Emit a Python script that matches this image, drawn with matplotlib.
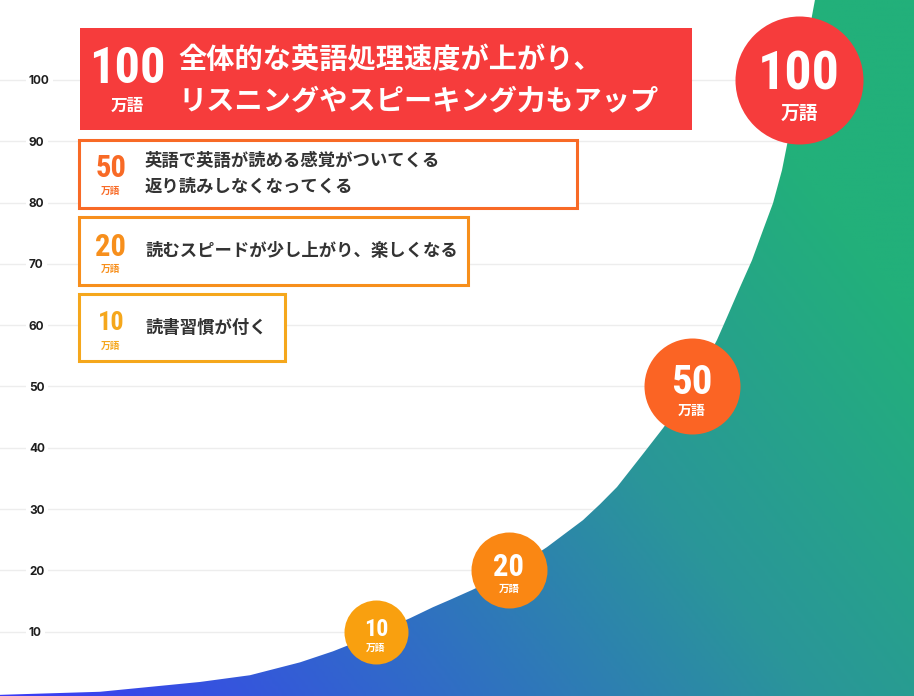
import matplotlib
matplotlib.use('Agg')
import matplotlib.pyplot as plt
import numpy as np
from matplotlib import font_manager
from matplotlib.colors import LinearSegmentedColormap
from matplotlib.patches import Rectangle

# milestones (万語) and where they sit along the curve
milestones = [10, 20, 50, 100]
milestone_x = [376, 509, 692, 799]
unit = '万語'
effects = [
    '読書習慣が付く',
    '読むスピードが少し上がり、楽しくなる',
    '英語で英語が読める感覚がついてくる\n返り読みしなくなってくる',
    '全体的な英語処理速度が上がり、\nリスニングやスピーキング力もアップ',
]
yticks = [10, 20, 30, 40, 50, 60, 70, 80, 90, 100]

# edge of the growth curve
curve_x = [0, 100, 200, 250, 300, 333, 350, 376, 410, 433, 450, 472, 509, 547,
           583, 600, 617, 643, 663, 692, 717, 727, 740, 752, 763, 773, 782, 787,
           801, 815, 914]
curve_y = [-0.3, 0.2, 1.8, 2.9, 5.0, 6.8, 7.9, 9.8, 12.2, 14.0, 15.2, 16.8,
           19.7, 23.8, 28.2, 30.8, 33.6, 39.0, 43.2, 49.8, 57.6, 61.3, 66.2, 70.6,
           75.5, 79.9, 85.3, 89.4, 100.8, 113.1, 113.1]

W, H = 914, 696
Y0_PX, PX_PER_UNIT = 693, 6.13


def yv(py):
    # picture row -> axis value
    return (Y0_PX - py) / PX_PER_UNIT


# a narrow bold face for the big numbers if one is installed
installed = {f.name for f in font_manager.fontManager.ttflist}
num_family = 'Roboto'
for name in ['Roboto Condensed', 'Liberation Sans Narrow', 'DejaVu Sans Condensed',
             'Open Sans Condensed', 'Noto Sans Display']:
    if name in installed:
        num_family = name
        break
jp_font = ['Noto Sans CJK JP', 'DejaVu Sans']

fig = plt.figure(figsize=(W / 100, H / 100), dpi=100)
ax = fig.add_axes([0, 0, 1, 1])
ax.set_xlim(0, W)
ax.set_ylim(yv(H), yv(0))
for s in ax.spines.values():
    s.set_visible(False)
ax.set_xticks([])
ax.set_yticks(yticks)
ax.set_yticklabels([str(t) for t in yticks])
ax.tick_params(axis='y', length=0, pad=-29 * 0.72, labelsize=8.5, labelcolor='#1e1e1e')
for lbl in ax.get_yticklabels():
    lbl.set_ha('left')
    lbl.set_fontweight('bold')
    lbl.set_family('Inter')
    lbl.set_bbox(dict(facecolor='white', edgecolor='none', pad=2.5))
ax.grid(axis='y', color='#ededed', lw=1)
ax.set_axisbelow(True)

# gradient area under curve
area = ax.fill_between(curve_x, curve_y, yv(H) - 1, facecolor='none', edgecolor='none')
cmap = LinearSegmentedColormap.from_list('g', [(0, '#3b3bf6'), (0.33, '#3168cb'),
                                               (0.67, '#2a9699'), (1, '#22b07a')])
u, v = np.meshgrid(np.linspace(0, 1, 300), np.linspace(1, 0, 300))
t = np.clip(0.75 * u + 0.45 * v, 0, 1)
im = ax.imshow(t, cmap=cmap, vmin=0, vmax=1, extent=[0, W, yv(H), yv(0)],
               aspect='auto', zorder=2, interpolation='bilinear')
im.set_clip_path(area.get_paths()[0], transform=ax.transData)

renderer = fig.canvas.get_renderer()


def number(x, cy, w, h, s, color):
    # fit the number roughly into a w x h pixel box centred on (x, cy)
    txt = ax.text(x, 0, s, color=color, fontsize=20, fontweight='bold',
                  family=num_family, ha='center', va='baseline', zorder=5)
    bw = txt.get_window_extent(renderer).width
    size = min(20 * w * 1.15 / bw, h * 0.97)
    txt.set_fontsize(size)
    cap = 0.71 * size * 100 / 72
    txt.set_y(yv(cy + cap / 2))
    return txt


# circles on the curve
circle_colors = ['#f9a00f', '#fa8713', '#fb6424', '#f63c3c']
radii = [32, 38, 48, 64]
num_box = [(627, 21, 20), (565, 27, 25), (379, 36, 35), (70, 71, 52)]
unit_pos = [(648, 7), (589, 7.5), (411, 10), (113, 13.5)]
for m, x, c, r, (ny, nw, nh), (uy, us) in zip(milestones, milestone_x, circle_colors,
                                              radii, num_box, unit_pos):
    ax.scatter([x], [m], s=(2 * r * 0.72) ** 2, color=c, zorder=4, linewidths=0)
    number(x, ny, nw, nh, str(m), 'white')
    ax.text(x, yv(uy), unit, color='white', fontsize=us, fontweight='bold',
            family=jp_font, ha='center', va='center', zorder=5)

# effect boxes (left, top, right, bottom in picture pixels)
box_rects = [(79, 294, 285, 361), (79, 217, 468, 285), (79, 140, 577, 208), (80, 28, 692, 130)]
box_colors = ['#f5a71c', '#f78f1c', '#f86a26', '#f63c3c']
box_num = [(111, 321, 23, 26), (111, 245, 27, 26), (111, 166, 27, 27), (127, 65, 66, 48)]
box_unit = [(111, 346, 7), (111, 269, 7), (111, 191, 7), (127, 106, 12)]
for i, (m, txt, (l, tp, r, b), c) in enumerate(zip(milestones, effects, box_rects, box_colors)):
    big = i == 3
    face = c if big else 'white'
    ax.add_patch(Rectangle((l, yv(b)), r - l, yv(tp) - yv(b), facecolor=face,
                           edgecolor=c, lw=0 if big else 2.2, zorder=3))
    fg = 'white' if big else c
    nx, ny, nw, nh = box_num[i]
    number(nx, ny, nw, nh, str(m), fg)
    ux, uy, us = box_unit[i]
    ax.text(ux, yv(uy), unit, color=fg, fontsize=us, fontweight='bold',
            family=jp_font, ha='center', va='center', zorder=5)
    lines = txt.split('\n')
    tx = 178 if big else 145
    tsz = 20.3 if big else 12.5
    tcol = 'white' if big else '#333333'
    if big:
        ys = [60, 101]
    elif len(lines) == 2:
        ys = [tp + 21, tp + 46]
    else:
        ys = [(tp + b) / 2]
    for ln, py in zip(lines, ys):
        ax.text(tx, yv(py), ln, color=tcol, fontsize=tsz, fontweight='bold',
                family=jp_font, ha='left', va='center', zorder=5)

fig.savefig('out.png', dpi=100)
